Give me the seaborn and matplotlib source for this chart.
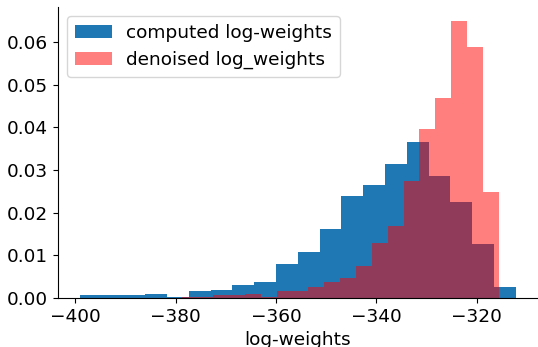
import numpy as np
import pandas as pd
import matplotlib
matplotlib.use("Agg")
import matplotlib.pyplot as plt
import seaborn as sns

# Histogram data (density values, 20 bins each)
computed_range = [-399.1, -312.2]
computed_density = [0.0006, 0.0006, 0.0006, 0.0010, 0.0003, 0.0015, 0.0018, 0.0031,
                    0.0036, 0.0080, 0.0108, 0.0161, 0.0240, 0.0265, 0.0314, 0.0366,
                    0.0287, 0.0224, 0.0127, 0.0025]
denoised_range = [-378.8, -315.6]
denoised_density = [0.0002, 0.0003, 0.0006, 0.0006, 0.0010, 0.0003, 0.0015, 0.0015,
                    0.0025, 0.0038, 0.0047, 0.0075, 0.0128, 0.0169, 0.0274, 0.0397,
                    0.0470, 0.0650, 0.0588, 0.0249]
labels = ["computed log-weights", "denoised log_weights"]
xlabel = "log-weights"

FS = 13.3
plt.rcParams["font.size"] = FS

fig = plt.figure(figsize=(5.38, 3.47), dpi=100)
ax = fig.add_axes([58 / 538, 1 - 297.8 / 347, (537.6 - 58) / 538, (297.8 - 7.1) / 347])


def make_hist(rng, dens):
    edges = np.linspace(rng[0], rng[1], len(dens) + 1)
    centers = (edges[:-1] + edges[1:]) / 2
    return [float(v) for v in edges], pd.DataFrame({"x": centers, "w": dens})


e1, d1 = make_hist(computed_range, computed_density)
e2, d2 = make_hist(denoised_range, denoised_density)

sns.histplot(data=d1, x="x", weights="w", bins=e1, stat="count", color="#1f77b4",
             alpha=1.0, linewidth=0, ax=ax, label=labels[0])
sns.histplot(data=d2, x="x", weights="w", bins=e2, stat="count", color="red",
             alpha=0.5, linewidth=0, ax=ax, label=labels[1])

ax.margins(x=0.05, y=0.05)
ax.autoscale_view()
ax.set_ylim(0, None)
ax.set_ylabel("")
ax.set_xlabel(xlabel, fontsize=FS)
ax.set_xticks([-400, -380, -360, -340, -320])
ax.set_yticks([0.0, 0.01, 0.02, 0.03, 0.04, 0.05, 0.06])
ax.tick_params(labelsize=FS)
sns.despine(ax=ax)
ax.legend(loc="upper left", fontsize=FS)

fig.savefig("out.png", dpi=100)
